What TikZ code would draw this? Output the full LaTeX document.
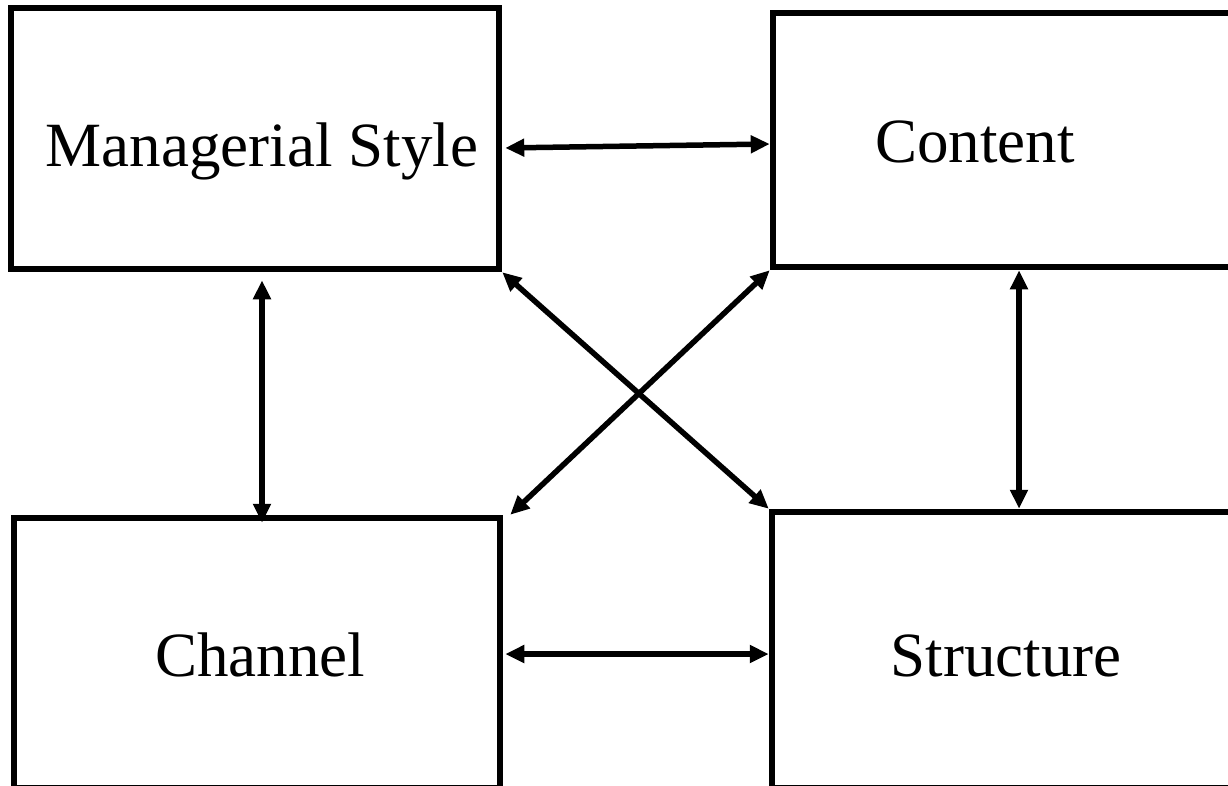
\documentclass[tikz,border=0pt]{standalone}
\usepackage{fontspec}
\setmainfont{Liberation Serif}
\usetikzlibrary{arrows.meta}

\begin{document}
\begin{tikzpicture}[x=1pt, y=-1pt,
  box/.style={rectangle, draw, line width=6.5pt, inner sep=0pt},
  word/.style={anchor=base, inner sep=0pt, font=\fontsize{63pt}{70pt}\selectfont},
  link/.style={line width=5.5pt, {Triangle[length=19pt,width=17pt]}-{Triangle[length=19pt,width=17pt]}}]

\clip (0,0) rectangle (1228,785);
\fill[white] (0,0) rectangle (1228,785);

% the four boxes

\node[box, minimum width=488pt, minimum height=261pt] (ms) at (255,138.5) {};
\node[box, minimum width=462pt, minimum height=254pt] (ct) at (1004,140) {};
\node[box, minimum width=486pt, minimum height=270pt] (ch) at (257,653) {};
\node[box, minimum width=463pt, minimum height=276pt] (st) at (1003.5,650) {};

% labels

\node[word] (mslabel) at (262,166) {Managerial Style};
\node[word] (ctlabel) at (975,162) {Content};
\node[word] (chlabel) at (260,676) {Channel};
\node[word] (stlabel) at (1006,676) {Structure};

% links

\draw[link, shorten <=3pt] ([yshift=-9.5pt]ms.east) -- ([yshift=-4pt]ct.west);
\draw[link, shorten <=2pt] ([yshift=-1pt]ch.east) -- ([yshift=-4pt]st.west);
\draw[link, shorten <=8pt, shorten >=-8pt] ([xshift=7pt]ms.south) -- ([xshift=5pt]ch.north);
\draw[link] ([xshift=15pt]ct.south) -- ([xshift=15.5pt]st.north);
\draw[link] (ms.south east) -- (st.north west);
\draw[link] ([xshift=7pt]ch.north east) -- (ct.south west);

\end{tikzpicture}
\end{document}
